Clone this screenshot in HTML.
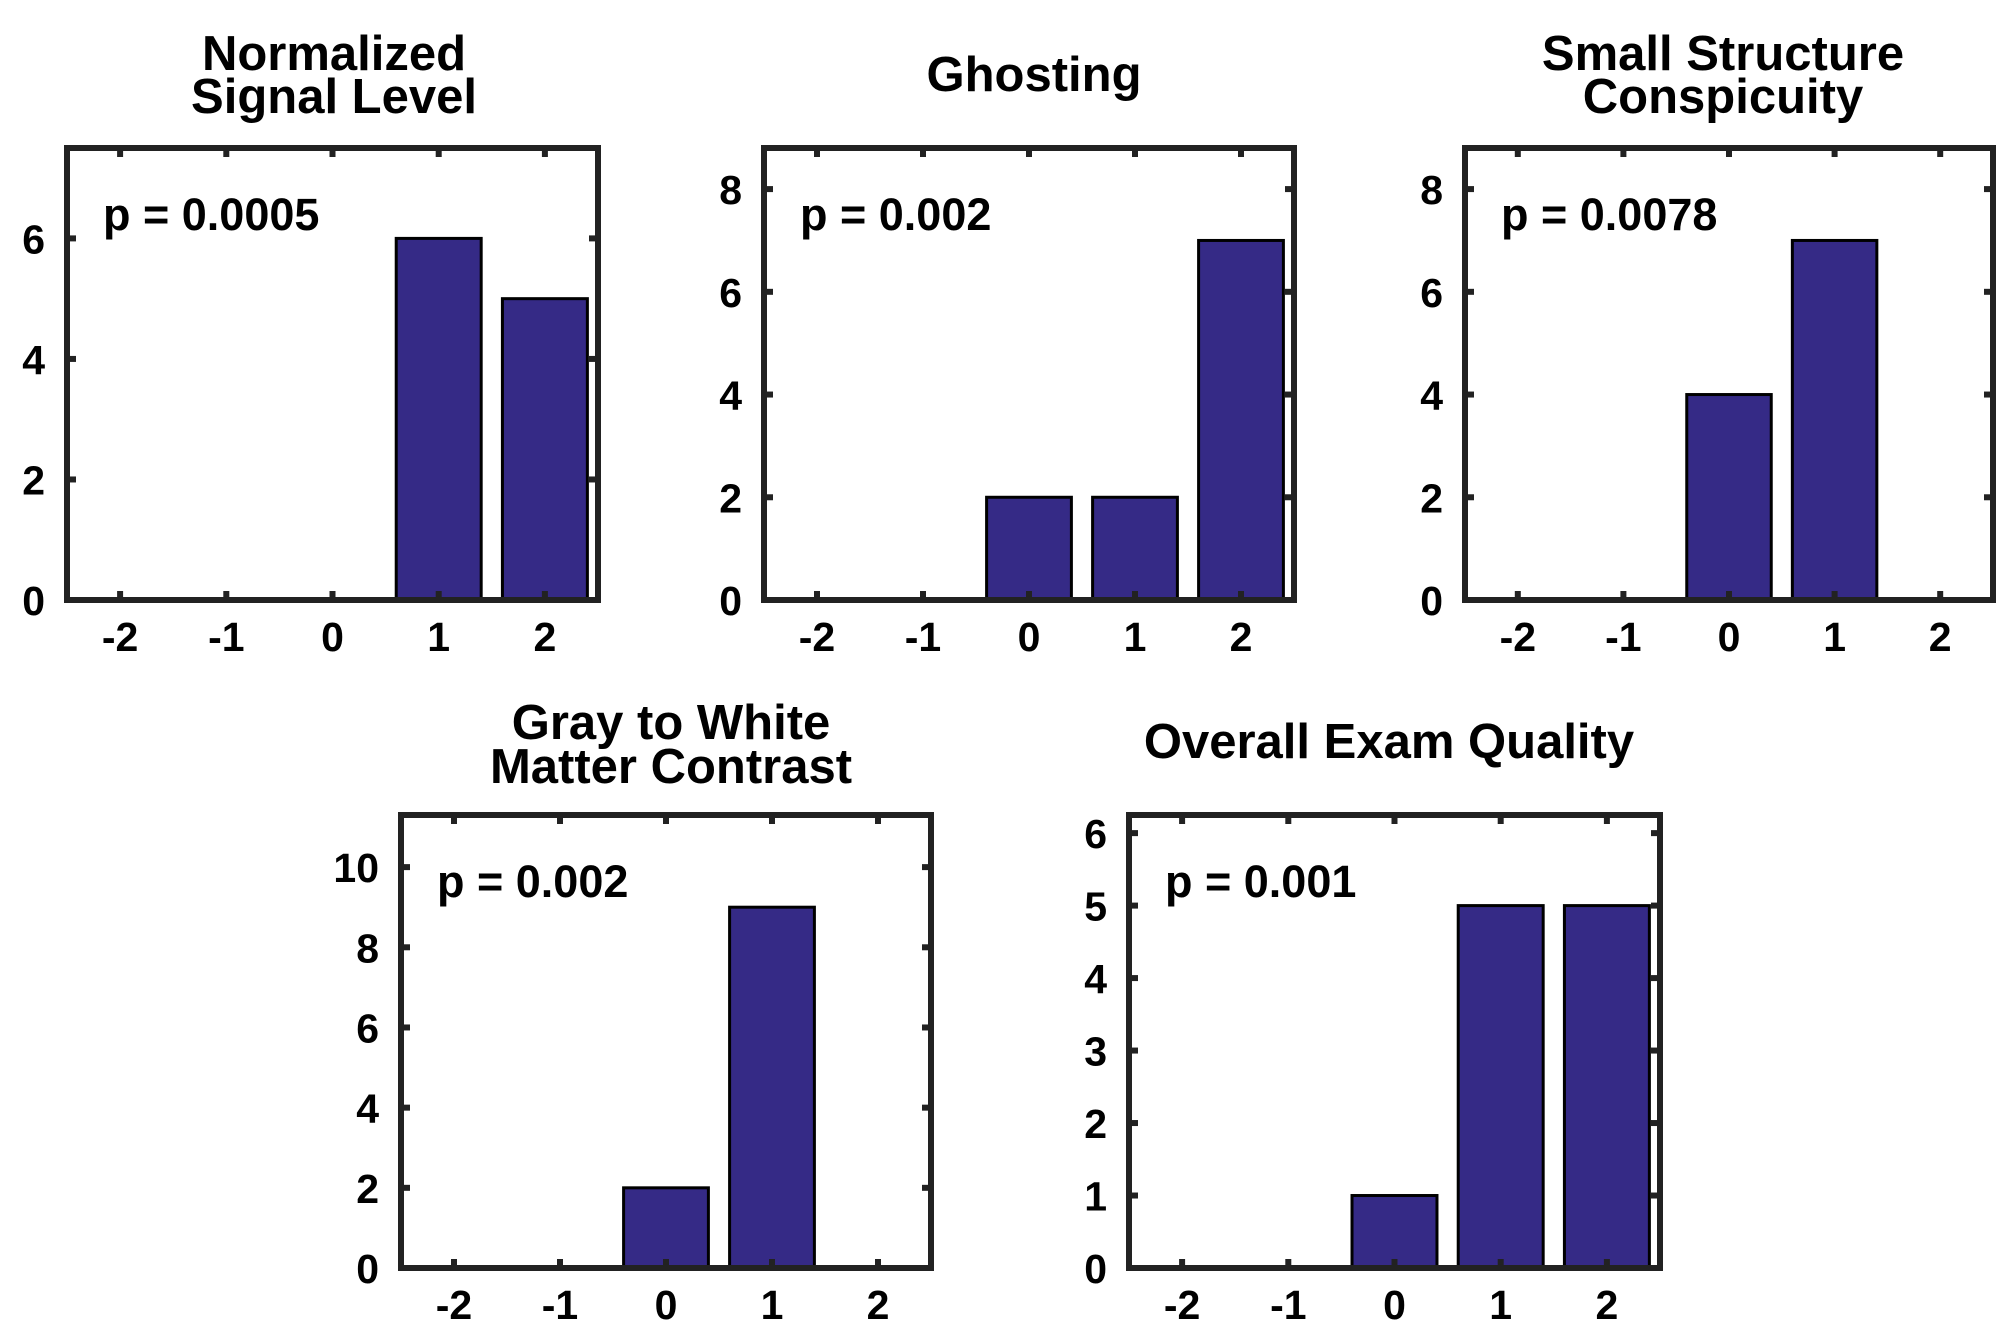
<!DOCTYPE html>
<html><head><meta charset="utf-8"><style>
html,body{margin:0;padding:0;background:#fff;}
svg{display:block;font-family:"Liberation Sans",Arial,sans-serif;font-weight:bold;}
</style></head><body>
<svg id="fig" width="2016" height="1334" viewBox="0 0 2016 1334"></svg>
<script>
const categories = [-2, -1, 0, 1, 2];
const signalValues = [0, 0, 0, 6, 5];
const ghostingValues = [0, 0, 2, 2, 7];
const structureValues = [0, 0, 4, 7, 0];
const contrastValues = [0, 0, 2, 9, 0];
const overallValues = [0, 0, 1, 5, 5];
const ticks8 = [0, 2, 4, 6, 8];
const ticks6 = [0, 2, 4, 6];
const ticks10 = [0, 2, 4, 6, 8, 10];
const ticksOverall = [0, 1, 2, 3, 4, 5, 6];
const pLabels = ["p = 0.0005", "p = 0.002", "p = 0.0078", "p = 0.002", "p = 0.001"];

const NS = "http://www.w3.org/2000/svg";
const svg = document.getElementById("fig");
function mk(tag, attrs, parent) {
  const e = document.createElementNS(NS, tag);
  for (const k in attrs) e.setAttribute(k, attrs[k]);
  (parent || svg).appendChild(e);
  return e;
}
const panels = [
  {name:"signal", title:["Normalized","Signal Level"], vals:signalValues, yt:ticks6, ymax:7.5, L:67, R:598, T:148, B:600, tx:334, ty:[70,113]},
  {name:"ghosting", title:["Ghosting"], vals:ghostingValues, yt:ticks8, ymax:8.8, L:764, R:1294, T:148, B:600, tx:1034, ty:[91]},
  {name:"structure", title:["Small Structure","Conspicuity"], vals:structureValues, yt:ticks8, ymax:8.8, L:1465, R:1993, T:148, B:600, tx:1723, ty:[70,113]},
  {name:"contrast", title:["Gray to White","Matter Contrast"], vals:contrastValues, yt:ticks10, ymax:11.3, L:401, R:931, T:815, B:1268, tx:671, ty:[739,783]},
  {name:"overall", title:["Overall Exam Quality"], vals:overallValues, yt:ticksOverall, ymax:6.25, L:1129, R:1660, T:815, B:1268, tx:1389, ty:[758]}
];
panels.forEach((p, pi) => {
  const g = mk("g", {});
  
  
  const xs = v => p.L + (v + 2.5) / 5 * (p.R - p.L);
  const ys = v => p.B - v / p.ymax * (p.B - p.T);
  p.title.forEach((line, i) => {
    const t = mk("text", {x:p.tx, y:p.ty[i], "text-anchor":"middle", "font-size":"49"}, g);
    
    
    t.textContent = line;
  });
  categories.forEach((c, i) => {
    const v = p.vals[i];
    if (v <= 0) return;
    const w = 0.8 / 5 * (p.R - p.L);
    const r = mk("rect", {x:xs(c) - w/2, y:ys(v), width:w, height:ys(0) - ys(v), fill:"#352a86", stroke:"#000", "stroke-width":"3"}, g);
    
    
  });
  categories.forEach(c => {
    mk("line", {x1:xs(c), x2:xs(c), y1:p.B, y2:p.B-9, stroke:"#222", "stroke-width":"6"}, g);
    mk("line", {x1:xs(c), x2:xs(c), y1:p.T, y2:p.T+9, stroke:"#222", "stroke-width":"6"}, g);
    const t = mk("text", {x:xs(c), y:p.B + 51, "text-anchor":"middle", "font-size":"41"}, g);
    
    
    t.textContent = c;
  });
  p.yt.forEach(v => {
    mk("line", {x1:p.L, x2:p.L+9, y1:ys(v), y2:ys(v), stroke:"#222", "stroke-width":"6"}, g);
    mk("line", {x1:p.R, x2:p.R-9, y1:ys(v), y2:ys(v), stroke:"#222", "stroke-width":"6"}, g);
    const t = mk("text", {x:p.L - 22, y:ys(v) + 15, "text-anchor":"end", "font-size":"41"}, g);
    
    
    t.textContent = v;
  });
  const box = mk("rect", {x:p.L, y:p.T, width:p.R-p.L, height:p.B-p.T, fill:"none", stroke:"#222", "stroke-width":"6"}, g);
  
  
  const pt = mk("text", {x:p.L + 36, y:p.T + 82, "font-size":"45"}, g);
  
  
  pt.textContent = pLabels[pi];
});
</script>
</body></html>
